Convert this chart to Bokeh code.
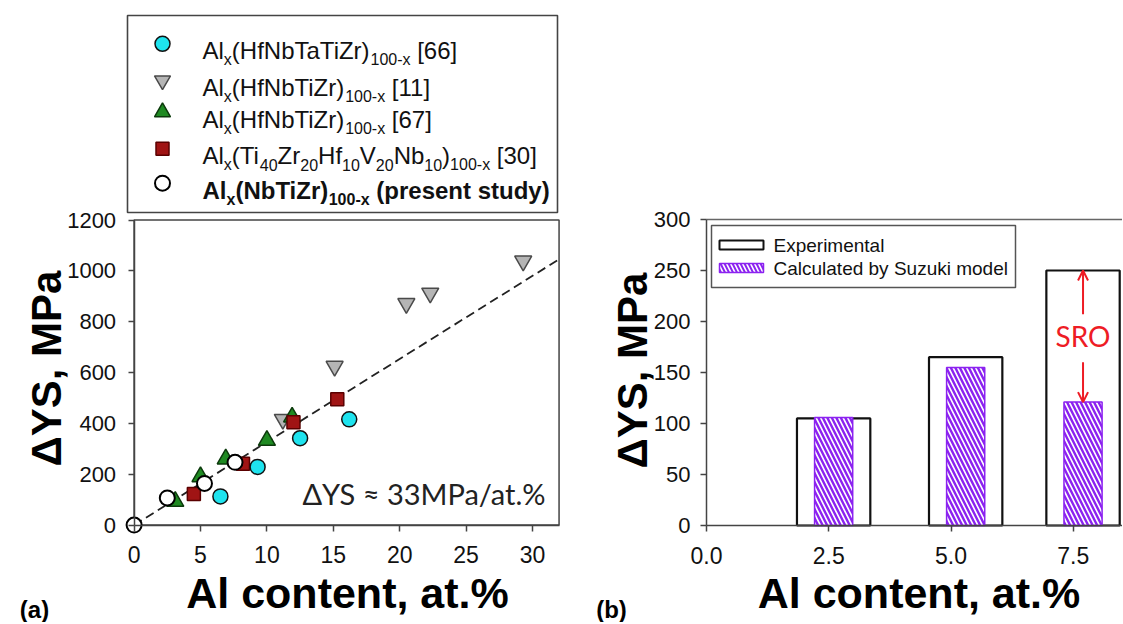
import math
from bokeh.plotting import figure
from bokeh.layouts import row
from bokeh.models import (ColumnDataSource, Label, Arrow, OpenHead, FixedTicker,
                          PrintfTickFormatter, Range1d)
from bokeh.core.properties import value, field
from bokeh.embed import file_html
from bokeh.resources import INLINE

# ---------------- data: panel (a) ----------------
hfnbtatizr66_x = [6.5, 9.3, 12.5, 16.2]
hfnbtatizr66_y = [113, 229, 342, 416]
hfnbtizr11_x = [11.2, 15.1, 20.5, 22.3, 29.3]
hfnbtizr11_y = [416, 625, 872, 913, 1039]
hfnbtizr67_x = [3.1, 5.0, 6.9, 10.0, 11.9]
hfnbtizr67_y = [93, 190, 260, 333, 425]
tizrhfvnb30_x = [4.5, 8.2, 12.0, 15.3]
tizrhfvnb30_y = [122, 241, 405, 495]
present_x = [0.0, 2.5, 5.3, 7.6]
present_y = [0, 107, 164, 247]
fit_x = [0, 32]
fit_y = [0, 1046]
fit_text = "ΔYS ≈ 33MPa/at.%"
a_xticks = [0, 5, 10, 15, 20, 25, 30]
a_yticks = [0, 200, 400, 600, 800, 1000, 1200]
a_xmax = 32

# ---------------- data: panel (b) ----------------
b_al = [2.6, 5.3, 7.7]
b_experimental = [105, 165, 250]
b_suzuki = [106, 155, 121]
b_xticks = [0.0, 2.5, 5.0, 7.5]
b_yticks = [0, 50, 100, 150, 200, 250, 300]
b_labels = ["Experimental", "Calculated by Suzuki model"]

y_title = "ΔYS, MPa"
x_title = "Al content, at.%"

legend_a = [
    [("Al", 0), ("x", 1), ("(HfNbTaTiZr)", 0), ("100-x", 1), (" [66]", 0)],
    [("Al", 0), ("x", 1), ("(HfNbTiZr)", 0), ("100-x", 1), (" [11]", 0)],
    [("Al", 0), ("x", 1), ("(HfNbTiZr)", 0), ("100-x", 1), (" [67]", 0)],
    [("Al", 0), ("x", 1), ("(Ti", 0), ("40", 1), ("Zr", 0), ("20", 1), ("Hf", 0), ("10", 1),
     ("V", 0), ("20", 1), ("Nb", 0), ("10", 1), (")", 0), ("100-x", 1), (" [30]", 0)],
    [("Al", 0), ("x", 1), ("(NbTiZr)", 0), ("100-x", 1), (" (present study)", 0)],
]
legend_bold = [False, False, False, False, True]

# ---------------- styles ----------------
CYAN = "#1ee3ee"
GRAY = "#b5b5b5"
GREEN = "#1f8a22"
DRED = "#a01414"
PURPLE = "#8b22f0"
RED = "#ee1c25"
AXC = "#444444"
FONT = "Liberation Sans"

# Arial (Liberation Sans) advance widths / 1000 and a few kerning pairs
W_REG = {' ': 278, '(': 333, ')': 333, '-': 333, '[': 278, ']': 278,
         'A': 667, 'H': 722, 'N': 722, 'T': 611, 'Z': 611, 'V': 667,
         'a': 556, 'b': 556, 'd': 556, 'e': 556, 'f': 278, 'i': 222, 'l': 222, 'n': 556,
         'p': 556, 'r': 333, 's': 500, 't': 278, 'u': 556, 'x': 500, 'y': 500}
W_BOLD = {' ': 278, '(': 333, ')': 333, '-': 333, '[': 333, ']': 333,
          'A': 722, 'H': 722, 'N': 722, 'T': 611, 'Z': 611, 'V': 667,
          'a': 556, 'b': 611, 'd': 611, 'e': 556, 'f': 333, 'i': 278, 'l': 278, 'n': 611,
          'p': 611, 'r': 389, 's': 556, 't': 333, 'u': 611, 'x': 556, 'y': 556}
KERN = {('T', 'a'): -110}


def text_width(s, size, bold):
    tbl = W_BOLD if bold else W_REG
    w = sum(tbl.get(c, 556) for c in s)
    w += sum(KERN.get((a, b), 0) for a, b in zip(s, s[1:]))
    return w / 1000.0 * size


# ---------------- geometry (page pixels) ----------------
H = 622
WA, WB = 566, 556
A_X0, A_XS = 133.6, 13.28          # page x of Al=0, px per at.%
A_Y0, A_YS = 524.6, 305.0 / 1200   # page y of 0 MPa, px per MPa
B_X0, B_XS = 706.0, 48.9
B_Y0, B_YS = 525.0, 306.0 / 300
B_LEFT = WA                         # page x where panel (b) canvas begins


def lx(px):
    return (px - A_X0) / A_XS


def ly(py):
    return (A_Y0 - py) / A_YS


def bx(px):
    return (px - B_X0) / B_XS


def by(py):
    return (B_Y0 - py) / B_YS


def style_axes(p, ystand, xstand):
    p.grid.visible = False
    for ax in p.axis:
        ax.fixed_location = 0
        ax.axis_line_color = AXC
        ax.axis_line_width = 1.5
        ax.major_tick_line_color = AXC
        ax.major_tick_line_width = 1.5
        ax.major_tick_out = 6
        ax.major_tick_in = 0
        ax.minor_tick_line_color = None
        ax.major_label_text_font = FONT
        ax.major_label_text_font_size = "22px"
        ax.major_label_text_color = "#111111"
    p.xaxis.major_label_text_font_size = "23px"
    p.yaxis.major_label_standoff = ystand
    p.xaxis.major_label_standoff = xstand


def titles(p, fx, fy, ytx, yty, xtx, xty, tag, tagx, tagy):
    p.add_layout(Label(x=fx(ytx), y=fy(yty), text=y_title, angle=math.pi / 2,
                       text_align="center", text_baseline="middle", text_font=FONT,
                       text_font_style="bold", text_font_size="42px", text_color="#000000"))
    p.add_layout(Label(x=fx(xtx), y=fy(xty), text=x_title, text_align="center",
                       text_baseline="middle", text_font=FONT, text_font_style="bold",
                       text_font_size="43px", text_color="#000000"))
    p.add_layout(Label(x=fx(tagx), y=fy(tagy), text=tag, text_align="center",
                       text_baseline="middle", text_font=FONT, text_font_style="bold",
                       text_font_size="24px", text_color="#000000"))


# ================= panel (a) =================
pa = figure(width=WA, height=H, x_range=Range1d(lx(0), lx(WA)), y_range=Range1d(ly(H), ly(0)),
            output_backend="svg", toolbar_location=None,
            min_border_left=0, min_border_right=0, min_border_top=0, min_border_bottom=0,
            outline_line_color=None, background_fill_color="white", border_fill_color="white")
style_axes(pa, 12, 15)
pa.xaxis.bounds = (0, a_xmax)
pa.yaxis.bounds = (0, a_yticks[-1])
pa.xaxis.ticker = FixedTicker(ticks=a_xticks)
pa.yaxis.ticker = FixedTicker(ticks=a_yticks)

# plot box
pa.quad(left=0, right=a_xmax, bottom=0, top=a_yticks[-1], fill_color=None,
        line_color=AXC, line_width=1.5)
# fit line
pa.line(fit_x, fit_y, line_color="#222222", line_width=1.8, line_dash="9 5")

pa.scatter(hfnbtizr11_x, hfnbtizr11_y, marker="inverted_triangle", size=17,
           fill_color=GRAY, line_color="#4a4a4a", line_width=1.5)
pa.scatter(hfnbtizr67_x, hfnbtizr67_y, marker="triangle", size=17,
           fill_color=GREEN, line_color="#0c3a0c", line_width=1.5)
pa.scatter(tizrhfvnb30_x, tizrhfvnb30_y, marker="square", size=13,
           fill_color=DRED, line_color="#5a0000", line_width=1.5)
pa.scatter(hfnbtatizr66_x, hfnbtatizr66_y, marker="circle", size=15,
           fill_color=CYAN, line_color="#111111", line_width=1.5)
pa.scatter(present_x, present_y, marker="circle", size=15,
           fill_color="white", line_color="#000000", line_width=2)

pa.add_layout(Label(x=lx(545), y=ly(493), text=fit_text, text_align="right",
                    text_baseline="middle", text_font="Lato",
                    text_font_size="29px", text_color="#222222"))

# legend (a)
pa.quad(left=lx(127), right=lx(557), bottom=ly(212), top=ly(15), fill_color="white",
        line_color=AXC, line_width=1.6)
row_y = [43.3, 80.0, 111.7, 148.3, 182.7]
mk_x = lx(162)
pa.scatter([mk_x], [ly(row_y[0])], marker="circle", size=15, fill_color=CYAN,
           line_color="#111111", line_width=1.5)
pa.scatter([mk_x], [ly(row_y[1])], marker="inverted_triangle", size=16, fill_color=GRAY,
           line_color="#4a4a4a", line_width=1.5)
pa.scatter([mk_x], [ly(row_y[2])], marker="triangle", size=16, fill_color=GREEN,
           line_color="#0c3a0c", line_width=1.5)
pa.scatter([mk_x], [ly(row_y[3])], marker="square", size=13, fill_color=DRED,
           line_color="#5a0000", line_width=1.5)
pa.scatter([mk_x], [ly(row_y[4])], marker="circle", size=15, fill_color="white",
           line_color="#000000", line_width=2)

MAIN_FS, SUB_FS = 24, 16
tx, ty, tt, txo, tyo, tfs, tst = [], [], [], [], [], [], []
for r, pieces in enumerate(legend_a):
    bold = legend_bold[r]
    off = 0.0
    for s, sub in pieces:
        fs = SUB_FS if sub else MAIN_FS
        stripped = s.lstrip(" ")
        off += text_width(s[:len(s) - len(stripped)], fs, bold)
        tx.append(lx(202))
        ty.append(ly(row_y[r] + 7.0))
        tt.append(stripped)
        txo.append(off)
        tyo.append(9 if sub else 0)
        tfs.append("%dpx" % fs)
        tst.append("bold" if bold else "normal")
        off += text_width(stripped, fs, bold)
src = ColumnDataSource(dict(x=tx, y=ty, text=tt, xo=txo, yo=tyo, fs=tfs, st=tst))
pa.text(x="x", y="y", text="text", x_offset="xo", y_offset="yo", text_font_size=field("fs"),
        text_font_style=field("st"), text_font=value(FONT), text_color="#111111",
        text_baseline="alphabetic", text_align="left", source=src)

titles(pa, lx, ly, 46, 368, 347, 592, "(a)", 34, 609)

# ================= panel (b) =================
bx_lo, bx_hi = bx(B_LEFT), bx(B_LEFT + WB)
pb = figure(width=WB, height=H, x_range=Range1d(bx_lo, bx_hi), y_range=Range1d(by(H), by(0)),
            output_backend="svg", toolbar_location=None,
            min_border_left=0, min_border_right=0, min_border_top=0, min_border_bottom=0,
            outline_line_color=None, background_fill_color="white", border_fill_color="white")
style_axes(pb, 10, 15)
pb.xaxis.bounds = (0, bx_hi)
pb.yaxis.bounds = (0, b_yticks[-1])
pb.xaxis.ticker = FixedTicker(ticks=b_xticks)
pb.yaxis.ticker = FixedTicker(ticks=b_yticks)
pb.xaxis.formatter = PrintfTickFormatter(format="%.1f")
# top border line of panel (b)
pb.segment(x0=[0], y0=[b_yticks[-1]], x1=[bx_hi], y1=[b_yticks[-1]], line_color="#666666",
           line_width=1.5)

pb.vbar(x=b_al, width=1.5, top=b_experimental, bottom=0, fill_color="white",
        line_color="#111111", line_width=2.2)
pb.vbar(x=b_al, width=0.78, top=b_suzuki, bottom=0, fill_color="white",
        line_color=PURPLE, line_width=1.5, hatch_pattern="\\", hatch_color=PURPLE,
        hatch_scale=9, hatch_weight=2.4)

# SRO arrows
head_up = OpenHead(size=10, line_color=RED, line_width=2)
head_dn = OpenHead(size=10, line_color=RED, line_width=2)
pb.add_layout(Arrow(end=head_up, x_start=b_al[2], y_start=b_experimental[2] - 43,
                    x_end=b_al[2], y_end=b_experimental[2], line_color=RED, line_width=2))
pb.add_layout(Arrow(end=head_dn, x_start=b_al[2], y_start=b_suzuki[2] + 39,
                    x_end=b_al[2], y_end=b_suzuki[2], line_color=RED, line_width=2))
pb.add_layout(Label(x=b_al[2], y=(b_experimental[2] + b_suzuki[2]) / 2, text="SRO",
                    text_align="center", text_baseline="middle", text_font="Lato",
                    text_font_size="28px", text_color=RED))

# legend (b)
pb.quad(left=bx(711), right=bx(1015), bottom=by(287), top=by(225), fill_color="white",
        line_color="#555555", line_width=1.5)
pb.quad(left=bx(719), right=bx(763), bottom=by(249), top=by(240), fill_color="white",
        line_color="#111111", line_width=2)
pb.quad(left=bx(719), right=bx(763), bottom=by(272), top=by(263), fill_color="white",
        line_color=PURPLE, line_width=1.5, hatch_pattern="\\", hatch_color=PURPLE,
        hatch_scale=8, hatch_weight=2)
pb.text(x=[bx(773), bx(773)], y=[by(244.5), by(267.8)], text=b_labels,
        text_font=value(FONT), text_font_size="19px", text_color="#111111",
        text_baseline="middle", text_align="left")

titles(pb, bx, by, 631.7, 370, 918.5, 592, "(b)", 611, 609)

layout = row(pa, pb)
open("out.html", "w").write(file_html(layout, INLINE))
